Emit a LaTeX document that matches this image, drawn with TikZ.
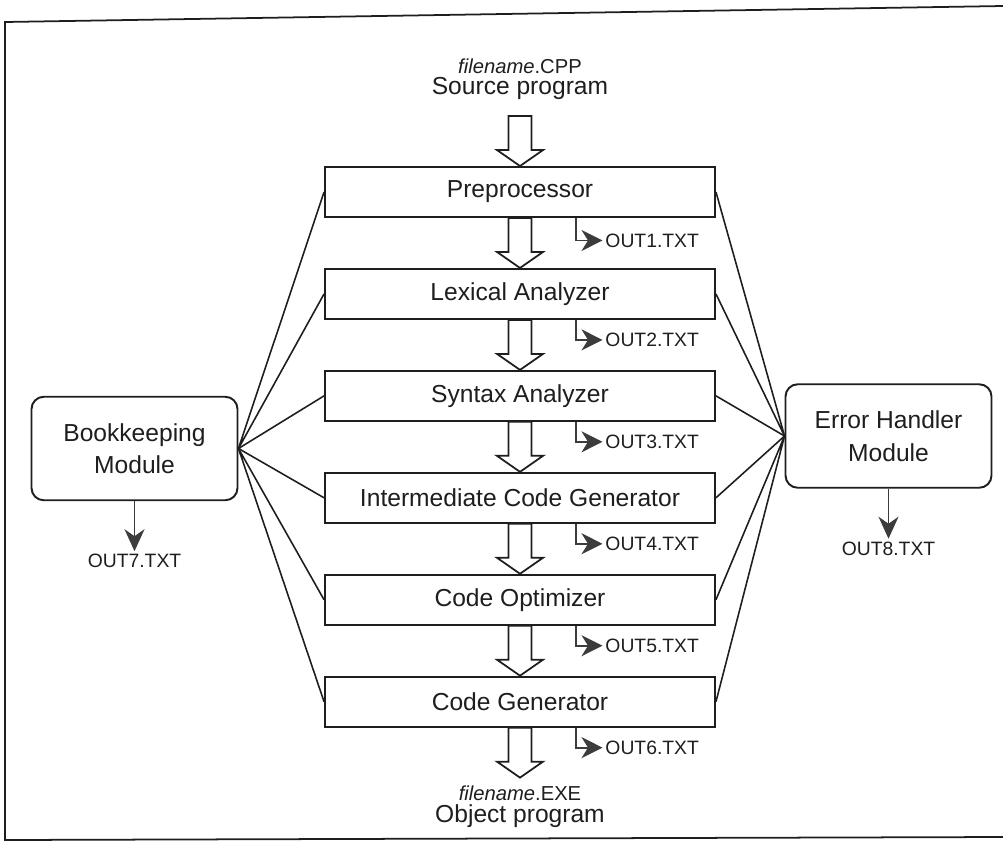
\documentclass[tikz,border=0pt]{standalone}
\usepackage{fontspec}
\setmainfont{Liberation Sans}
\usetikzlibrary{arrows.meta, positioning}
\definecolor{inkblack}{HTML}{1E1E1E}
\definecolor{tipgray}{HTML}{3C3C3C}
\tikzset{
	stage/.style={draw=inkblack, line width=1.1pt, fill=white, minimum width=7.8cm,
		minimum height=1.0cm, inner sep=0pt, font=\fontsize{14}{16}\selectfont, text=inkblack},
	module/.style={draw=inkblack, line width=1.1pt, rounded corners=7pt, minimum width=4.12cm,
		minimum height=2.07cm, align=center, font=\fontsize{14}{18.5}\selectfont, text=inkblack},
	outlbl/.style={font=\fontsize{11}{13}\selectfont, text=inkblack, inner sep=1.5pt},
	fname/.style={font=\fontsize{11.5}{13}\selectfont\itshape, text=inkblack, inner sep=1pt},
	prog/.style={font=\fontsize{14}{16}\selectfont, text=inkblack, inner sep=1pt},
	fan/.style={line width=0.9pt, draw=inkblack},
	outarr/.style={-{Stealth[length=4.2mm, width=4.2mm, inset=1.3mm]}, line width=1.1pt, draw=tipgray},
	modarr/.style={-{Stealth[length=4.4mm, width=4mm, inset=1.4mm]}, line width=1pt, draw=tipgray},
	hollow/.style={line width=1pt, draw=inkblack, fill=white, line join=miter}
}
% hollow block arrow from #1 (top) to #2 (tip)
\newcommand{\hollowarrow}[2]{%
	\draw[hollow] ([xshift=-0.23cm]#1) -- ([xshift=-0.23cm, yshift=0.32cm]#2)
		-- ([xshift=-0.46cm, yshift=0.32cm]#2) -- (#2) -- ([xshift=0.46cm, yshift=0.32cm]#2)
		-- ([xshift=0.23cm, yshift=0.32cm]#2) -- ([xshift=0.23cm]#1) -- cycle;}

\begin{document}
\begin{tikzpicture}[node distance=1cm]
	\useasboundingbox (0,0) rectangle (20.06,-16.94);
	% frame
	\draw[line width=1pt, draw=inkblack] (20.06,-0.12) -- (0.1,-0.44) -- (0.1,-16.8) -- (20.06,-16.74);

	% phases
	\node[stage] (pre) at (10.4,-3.84) {Preprocessor};
	\node[stage, below=of pre] (lex) {Lexical Analyzer};
	\node[stage, below=of lex] (syn) {Syntax Analyzer};
	\node[stage, below=of syn] (icg) {Intermediate Code Generator};
	\node[stage, below=of icg] (opt) {Code Optimizer};
	\node[stage, below=of opt] (gen) {Code Generator};

	% side modules
	\node[module] (book) at (2.69,-8.97) {Bookkeeping\\Module};
	\node[module] (err) at (17.77,-8.72) {Error Handler\\Module};
	\node[outlbl, below=1.0cm of book] (out7) {OUT7.TXT};
	\node[outlbl, below=1.0cm of err] (out8) {OUT8.TXT};
	\draw[modarr] (book) -- (out7);
	\draw[modarr] (err) -- (out8);

	% source and object program
	\node[prog, above=1.28cm of pre] (src) {Source program};
	\node[fname, above=0pt of src] (cpp) {filename\normalfont.CPP};
	\node[fname, below=1.12cm of gen] (exe) {filename\normalfont.EXE};
	\node[prog, below=0pt of exe] (obj) {Object program};
	\coordinate (srcin) at ([yshift=1cm]pre.north);
	\coordinate (exeout) at ([yshift=-1cm]gen.south);

	% block arrows
	\hollowarrow{srcin}{pre.north}
	\hollowarrow{pre.south}{lex.north}
	\hollowarrow{lex.south}{syn.north}
	\hollowarrow{syn.south}{icg.north}
	\hollowarrow{icg.south}{opt.north}
	\hollowarrow{opt.south}{gen.north}
	\hollowarrow{gen.south}{exeout}

	% intermediate files
	\node[outlbl, anchor=west] (out1) at ([xshift=1.65cm, yshift=-0.45cm]pre.south) {OUT1.TXT};
	\node[outlbl, anchor=west] (out2) at ([xshift=1.65cm, yshift=-0.40cm]lex.south) {OUT2.TXT};
	\node[outlbl, anchor=west] (out3) at ([xshift=1.65cm, yshift=-0.40cm]syn.south) {OUT3.TXT};
	\node[outlbl, anchor=west] (out4) at ([xshift=1.65cm, yshift=-0.40cm]icg.south) {OUT4.TXT};
	\node[outlbl, anchor=west] (out5) at ([xshift=1.65cm, yshift=-0.40cm]opt.south) {OUT5.TXT};
	\node[outlbl, anchor=west] (out6) at ([xshift=1.65cm, yshift=-0.40cm]gen.south) {OUT6.TXT};
	\draw[outarr] ([xshift=1.12cm]pre.south) |- (out1.west);
	\draw[outarr] ([xshift=1.12cm]lex.south) |- (out2.west);
	\draw[outarr] ([xshift=1.12cm]syn.south) |- (out3.west);
	\draw[outarr] ([xshift=1.12cm]icg.south) |- (out4.west);
	\draw[outarr] ([xshift=1.12cm]opt.south) |- (out5.west);
	\draw[outarr] ([xshift=1.12cm]gen.south) |- (out6.west);

	% links to the modules
	\draw[fan] (pre.west) -- (book.east) -- (lex.west);
	\draw[fan] (syn.west) -- (book.east) -- (icg.west);
	\draw[fan] (opt.west) -- (book.east) -- (gen.west);
	\draw[fan] (pre.east) -- (err.west) -- (lex.east);
	\draw[fan] (syn.east) -- (err.west) -- (icg.east);
	\draw[fan] (opt.east) -- (err.west) -- (gen.east);
\end{tikzpicture}
\end{document}
